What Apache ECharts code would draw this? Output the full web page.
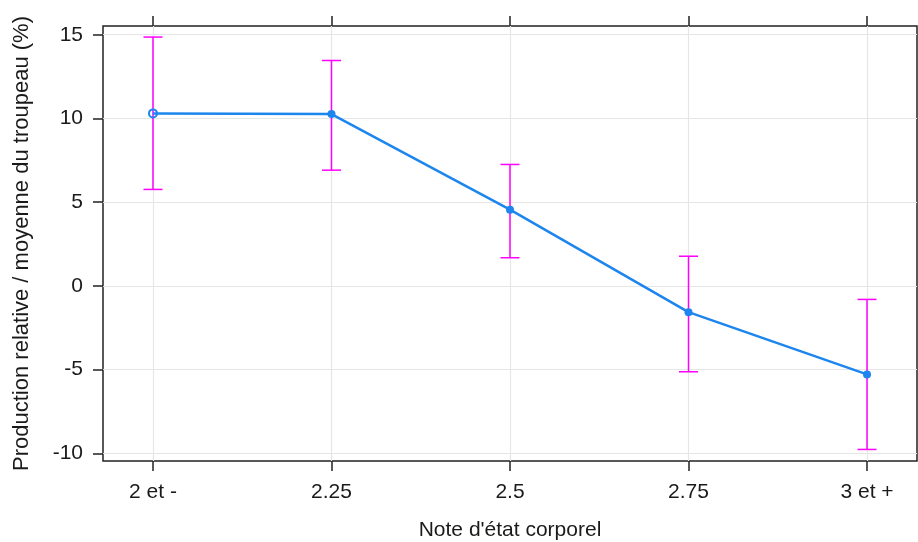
<!DOCTYPE html>
<html><head><meta charset="utf-8">
<script src="https://cdn.jsdelivr.net/npm/echarts@6/dist/echarts.min.js"></script>
<style>html,body{margin:0;padding:0;background:#fff}#c{width:918px;height:542px}</style>
</head><body><div id="c"></div>
<script>
const categories = ['2 et -', '2.25', '2.5', '2.75', '3 et +'];
const xPositions = [1, 2, 3, 4, 5];
const means = [10.3, 10.26, 4.55, -1.57, -5.29];
const lower = [5.76, 6.91, 1.68, -5.13, -9.77];
const upper = [14.86, 13.46, 7.25, 1.77, -0.81];
const yTicks = [-10, -5, 0, 5, 10, 15];
const xTitle = "Note d'état corporel";
const yTitle = 'Production relative / moyenne du troupeau (%)';

const font = 'Arial, "Liberation Sans", sans-serif';
const textColor = '#1a1a1a';
const blue = '#1C86EE';
const magenta = '#FF00FF';
const gridColor = '#e6e6e6';

const chart = echarts.init(document.getElementById('c'));
const lineData = xPositions.map((x, i) => {
  const d = { value: [x, means[i]] };
  if (i === 0) d.itemStyle = { color: 'rgba(0,0,0,0)', borderColor: blue, borderWidth: 2 };
  return d;
});
const errData = xPositions.map((x, i) => [x, lower[i], upper[i]]);
const tickStyle = { color: '#222', width: 1.5 };

chart.setOption({
  animation: false,
  backgroundColor: '#fff',
  grid: { left: 103, right: 1, top: 26, bottom: 81, containLabel: false, outerBoundsMode: 'none',
    show: true, borderColor: '#222', borderWidth: 1.5, backgroundColor: 'transparent' },
  xAxis: [{
    type: 'value', min: 0.72, max: 5.28, position: 'bottom',
    name: xTitle, nameLocation: 'middle', nameGap: 59,
    nameTextStyle: { fontFamily: font, fontSize: 21, color: textColor },
    axisLine: { show: false, onZero: false },
    axisTick: { show: true, customValues: xPositions, length: 10, inside: false, lineStyle: tickStyle },
    axisLabel: { customValues: xPositions, margin: 21, fontFamily: font, fontSize: 21, color: textColor,
      formatter: v => categories[xPositions.indexOf(Math.round(v))] || '' },
    splitLine: { show: true, lineStyle: { color: gridColor, width: 1.2 } }
  }, {
    type: 'value', min: 0.72, max: 5.28, position: 'top',
    axisLine: { show: false, onZero: false },
    axisTick: { show: true, customValues: xPositions, length: 10, inside: false, lineStyle: tickStyle },
    axisLabel: { show: false, customValues: xPositions },
    splitLine: { show: false }
  }],
  yAxis: {
    type: 'value', min: -10.46, max: 15.52, position: 'left',
    name: yTitle, nameLocation: 'middle', nameGap: 70, nameRotate: 90,
    nameTextStyle: { fontFamily: font, fontSize: 22, color: textColor },
    axisLine: { show: false, onZero: false },
    axisTick: { show: true, customValues: yTicks, length: 10, inside: false, lineStyle: tickStyle },
    axisLabel: { customValues: yTicks, margin: 20, fontFamily: font, fontSize: 21, color: textColor },
    splitLine: { show: true, lineStyle: { color: gridColor, width: 1.2 } }
  },
  series: [{
    type: 'custom', z: 2, xAxisIndex: 0,
    data: errData,
    renderItem: function (params, api) {
      const x = api.value(0);
      const lo = api.coord([x, api.value(1)]);
      const hi = api.coord([x, api.value(2)]);
      const hw = 9.5;
      const st = { stroke: magenta, lineWidth: 1.5 };
      return { type: 'group', children: [
        { type: 'line', shape: { x1: lo[0], y1: lo[1], x2: hi[0], y2: hi[1] }, style: st },
        { type: 'line', shape: { x1: lo[0] - hw, y1: lo[1], x2: lo[0] + hw, y2: lo[1] }, style: st },
        { type: 'line', shape: { x1: hi[0] - hw, y1: hi[1], x2: hi[0] + hw, y2: hi[1] }, style: st }
      ]};
    }
  }, {
    type: 'line', z: 3, xAxisIndex: 0,
    data: lineData,
    symbol: 'circle', symbolSize: 8,
    lineStyle: { color: blue, width: 2.5 },
    itemStyle: { color: blue }
  }]
});
</script></body></html>
